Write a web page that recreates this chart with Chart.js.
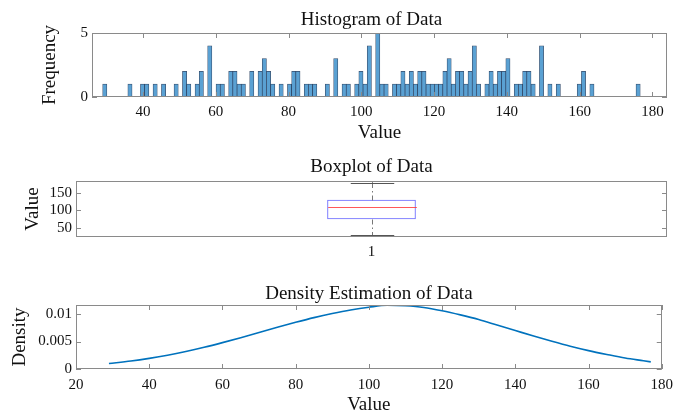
<!DOCTYPE html>
<html><head><meta charset="utf-8">
<script src="https://cdn.jsdelivr.net/npm/chart.js@4.4.0/dist/chart.umd.min.js"></script>
<style>
html,body{margin:0;padding:0;background:#fff;}
#wrap{position:relative;width:680px;height:415px;overflow:hidden;}
.box{position:absolute;left:0;width:680px;}
</style></head><body>
<div id="wrap">
  <div class="box" style="top:0;height:145px"><canvas id="c1"></canvas></div>
  <div class="box" style="top:145px;height:120px"><canvas id="c2"></canvas></div>
  <div class="box" style="top:265px;height:150px"><canvas id="c3"></canvas></div>
</div>
<script>
// ---------- data ----------
const histBinStart = 28.93;
const histBinWidth = 1.154;
const histCounts = [
  1,0,0,0,0,0,1,0,0,1,
  1,0,1,0,1,0,0,1,0,2,
  1,0,1,2,0,4,0,1,1,0,
  2,2,1,1,0,2,0,2,3,2,
  1,0,1,0,1,2,2,0,1,1,
  1,0,0,1,0,3,0,1,1,0,
  1,2,1,4,0,5,1,1,0,1,
  1,2,1,2,1,2,2,1,1,1,
  1,2,3,1,2,2,1,2,4,1,
  0,1,2,1,2,2,3,0,1,1,
  2,2,1,0,4,0,1,0,1,0,
  0,0,0,1,2,0,1,0,0,0,
  0,0,0,0,0,0,0,1
];
const histXTicksStep = 20;

const boxLabels = ['1'];
const boxQ1 = 74;
const boxMedian = 108;
const boxQ3 = 130;
const boxWhiskerLow = 29;
const boxWhiskerHigh = 178;

const densityX = [29,35,40,45,50,55,60,65,70,75,80,85,90,95,100,105,110,115,120,125,130,135,140,145,150,155,160,165,170,175,177];
const densityY = [0.00100,0.00145,0.00193,0.00250,0.00318,0.00395,0.00480,0.00570,0.00665,0.00760,0.00850,0.00935,0.01010,0.01075,0.01125,0.01160,0.01150,0.01120,0.01060,0.00985,0.00900,0.00800,0.00700,0.00600,0.00505,0.00415,0.00335,0.00265,0.00200,0.00150,0.00130];

// ---------- style ----------
const SERIF = '"Liberation Serif", "Times New Roman", Times, serif';
Chart.defaults.font.family = SERIF;
Chart.defaults.color = '#111';
const TICK_FONT = {family: SERIF, size: 15};
const LABEL_FONT = {family: SERIF, size: 19, lineHeight: 1.1};
const TITLE_FONT = '19px ' + SERIF;
const FRAME = '#8a8a8a';
const fmt = v => String(+Number(v).toFixed(6));

const framePlugin = {
  id: 'frame',
  afterDatasetsDraw(chart, args, o) {
    const {ctx, chartArea: a, scales} = chart;
    ctx.save();
    ctx.strokeStyle = FRAME; ctx.lineWidth = 1;
    ctx.strokeRect(Math.round(a.left) + 0.5, Math.round(a.top) + 0.5, Math.round(a.right - a.left) - 1, Math.round(a.bottom - a.top) - 1);
    const L = 5;
    ctx.beginPath();
    const xs = scales.x, ys = scales.y;
    xs.ticks.forEach((t, i) => {
      const p = Math.round(xs.getPixelForTick(i)) + 0.5;
      ctx.moveTo(p, a.bottom); ctx.lineTo(p, a.bottom - L);
      ctx.moveTo(p, a.top); ctx.lineTo(p, a.top + L);
    });
    ys.ticks.forEach((t, i) => {
      const p = Math.round(ys.getPixelForTick(i)) + 0.5;
      ctx.moveTo(a.left, p); ctx.lineTo(a.left + L, p);
      ctx.moveTo(a.right, p); ctx.lineTo(a.right - L, p);
    });
    ctx.stroke();
    ctx.fillStyle = '#111';
    ctx.font = TITLE_FONT;
    ctx.textAlign = 'center'; ctx.textBaseline = 'middle';
    ctx.fillText(o.title, (a.left + a.right) / 2 + (o.dx || 0), a.top - o.gap);
    ctx.restore();
  }
};

function baseTicks(extra) {
  return Object.assign({font: TICK_FONT, color: '#111', maxRotation: 0, autoSkip: false, includeBounds: false, callback: fmt}, extra);
}
function axis(extra) {
  return Object.assign({
    grid: {display: false, drawTicks: false},
    border: {display: false},
  }, extra);
}

// ---------- histogram ----------
const histData = histCounts.map((c, i) => ({x: histBinStart + (i + 0.5) * histBinWidth, y: c}));
new Chart(document.getElementById('c1'), {
  type: 'bar',
  data: {datasets: [{
    data: histData,
    backgroundColor: 'rgb(90,161,211)',
    borderColor: 'rgba(20,45,80,0.85)',
    borderWidth: ctx => (ctx.raw && ctx.raw.y > 0 ? 0.7 : 0),
    borderSkipped: false,
    barPercentage: 1, categoryPercentage: 1, grouped: false,
  }]},
  options: {
    responsive: true, maintainAspectRatio: false, animation: false,
    layout: {padding: {top: 33, right: 13, left: 0, bottom: 0}},
    plugins: {legend: {display: false}, tooltip: {enabled: false}, frame: {title: 'Histogram of Data', gap: 13, dx: -8}},
    scales: {
      x: axis({type: 'linear', offset: false, min: 26, max: 184,
        ticks: baseTicks({padding: 6, stepSize: histXTicksStep}),
        title: {display: true, text: 'Value', font: LABEL_FONT, color: '#111', padding: {top: 0, bottom: 2}},
        afterFit: s => { s.height = 48; }}),
      y: axis({min: 0, max: 5,
        ticks: baseTicks({padding: 4, stepSize: 5}),
        title: {display: true, text: 'Frequency', font: LABEL_FONT, color: '#111', padding: {top: 40, bottom: 0}},
        afterFit: s => { s.width = 92; }}),
    }
  },
  plugins: [framePlugin]
});

// ---------- boxplot ----------
const boxWhiskers = {
  id: 'boxWhiskers',
  afterDatasetsDraw(chart) {
    const {ctx} = chart;
    const y = chart.scales.y;
    const bar = chart.getDatasetMeta(0).data[0];
    const cx = Math.round(bar.x) + 0.5, hw = bar.width / 2, capHw = hw * 0.49;
    const py = v => Math.round(y.getPixelForValue(v)) + 0.5;
    ctx.save();
    ctx.lineWidth = 1;
    ctx.strokeStyle = '#777';
    ctx.setLineDash([5, 3, 1.5, 3]);
    ctx.beginPath();
    ctx.moveTo(cx, py(boxQ3)); ctx.lineTo(cx, py(boxWhiskerHigh));
    ctx.moveTo(cx, py(boxQ1)); ctx.lineTo(cx, py(boxWhiskerLow));
    ctx.stroke();
    ctx.setLineDash([]);
    ctx.strokeStyle = '#555';
    ctx.beginPath();
    ctx.moveTo(cx - capHw, py(boxWhiskerHigh)); ctx.lineTo(cx + capHw, py(boxWhiskerHigh));
    ctx.moveTo(cx - capHw, py(boxWhiskerLow)); ctx.lineTo(cx + capHw, py(boxWhiskerLow));
    ctx.stroke();
    ctx.strokeStyle = 'rgba(255,60,60,0.85)';
    ctx.beginPath();
    ctx.moveTo(cx - hw, py(boxMedian)); ctx.lineTo(cx + hw, py(boxMedian));
    ctx.stroke();
    ctx.restore();
  }
};
new Chart(document.getElementById('c2'), {
  type: 'bar',
  data: {labels: boxLabels, datasets: [{
    data: [[boxQ1, boxQ3]],
    backgroundColor: 'rgba(0,0,0,0)',
    borderColor: 'rgba(90,90,255,0.9)',
    borderWidth: 1, borderSkipped: false,
    barPercentage: 0.15, categoryPercentage: 1,
  }]},
  options: {
    responsive: true, maintainAspectRatio: false, animation: false,
    layout: {padding: {top: 36, right: 13, left: 0, bottom: 0}},
    plugins: {legend: {display: false}, tooltip: {enabled: false}, frame: {title: 'Boxplot of Data', gap: 14}},
    scales: {
      x: axis({type: 'category', offset: true,
        ticks: {font: TICK_FONT, color: '#111', padding: 6, maxRotation: 0},
        afterFit: s => { s.height = 28; }}),
      y: axis({min: 23, max: 184,
        ticks: baseTicks({padding: 4, stepSize: 50}),
        title: {display: true, text: 'Value', font: LABEL_FONT, color: '#111', padding: {top: 23, bottom: 0}},
        afterFit: s => { s.width = 76; }}),
    }
  },
  plugins: [framePlugin, boxWhiskers]
});

// ---------- density ----------
new Chart(document.getElementById('c3'), {
  type: 'line',
  data: {datasets: [{
    data: densityX.map((x, i) => ({x, y: densityY[i]})),
    borderColor: 'rgb(0,114,189)', borderWidth: 1.6,
    pointRadius: 0, cubicInterpolationMode: 'monotone', fill: false,
  }]},
  options: {
    responsive: true, maintainAspectRatio: false, animation: false,
    layout: {padding: {top: 40, right: 13, left: 0, bottom: 0}},
    plugins: {legend: {display: false}, tooltip: {enabled: false}, frame: {title: 'Density Estimation of Data', gap: 11}},
    scales: {
      x: axis({type: 'linear', min: 20, max: 180,
        ticks: baseTicks({padding: 7, stepSize: 20}),
        title: {display: true, text: 'Value', font: LABEL_FONT, color: '#111', padding: {top: 0, bottom: 0}},
        afterFit: s => { s.height = 46; }}),
      y: axis({min: 0, max: 0.01165,
        ticks: baseTicks({padding: 4, stepSize: 0.005}),
        title: {display: true, text: 'Density', font: LABEL_FONT, color: '#111', padding: {top: 10, bottom: 0}},
        afterFit: s => { s.width = 76; }}),
    }
  },
  plugins: [framePlugin]
});
</script>
</body></html>
